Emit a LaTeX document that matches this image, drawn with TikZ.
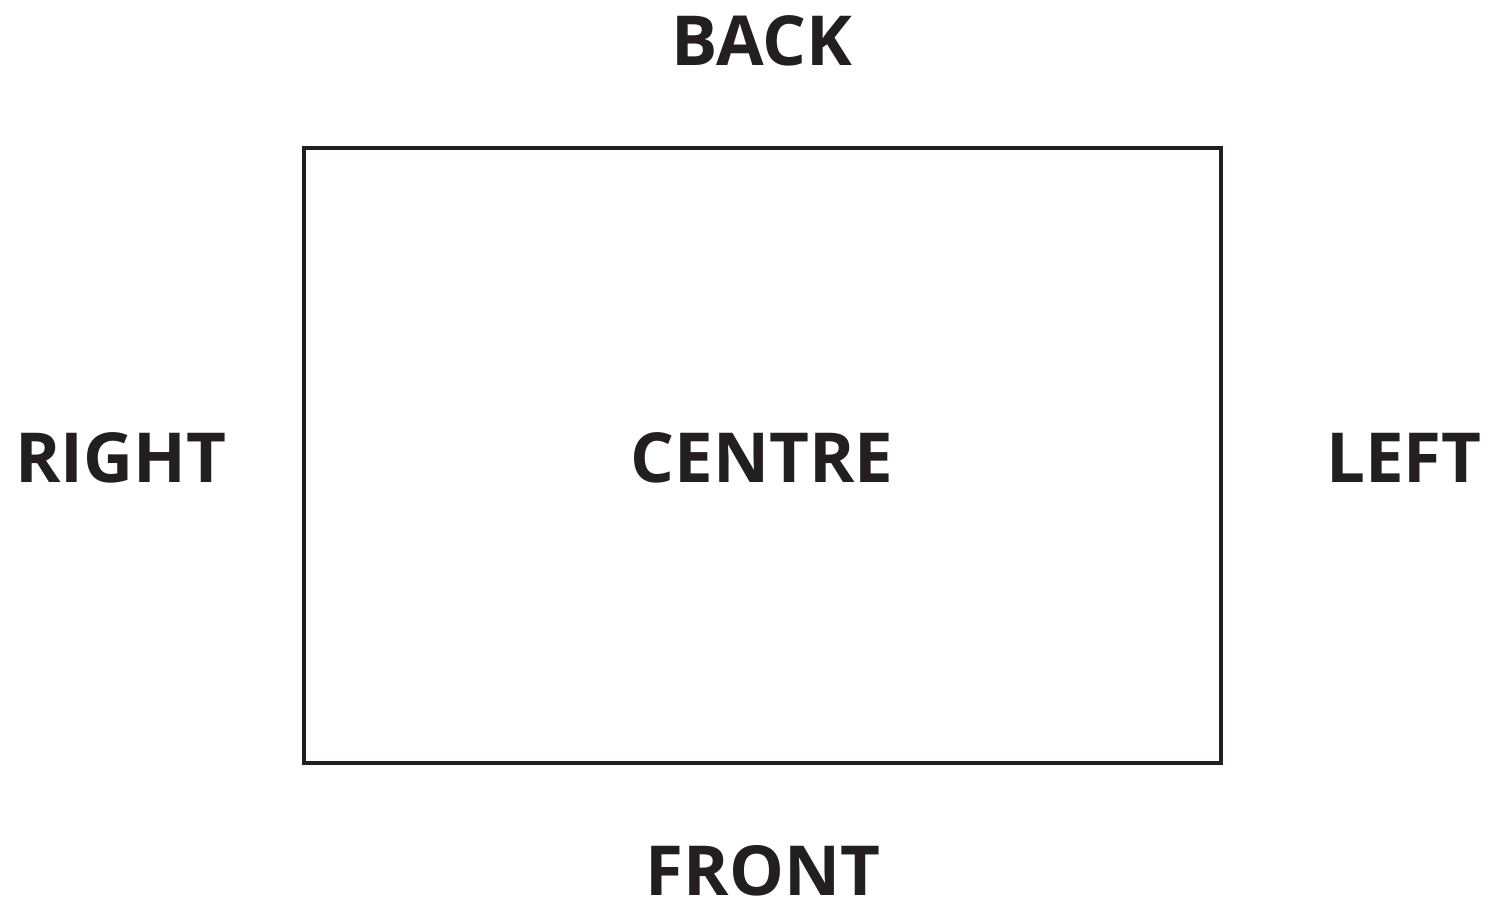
\documentclass[tikz,border=0pt]{standalone}
\usepackage{fontspec}
\setmainfont{Open Sans}
\definecolor{ink}{HTML}{231F20}
\begin{document}
\begin{tikzpicture}[x=0.5pt,y=-0.5pt,
  lbl/.style={font=\bfseries\fontsize{34.5}{40}\selectfont, inner sep=0pt, text=ink},
  board/.style={draw=ink, line width=2pt}]
\useasboundingbox (0,0) rectangle (1490,901);
\draw[board] (304,148) rectangle (1221,763);
\node[lbl] (back) at (762,41) {BACK};
\node[lbl] (front) at (763,871) {FRONT};
\node[lbl] (right) at (121,458) {RIGHT};
\node[lbl] (centre) at (762,458) {CENTRE};
\node[lbl] (left) at (1404,458) {LEFT};
\end{tikzpicture}
\end{document}
